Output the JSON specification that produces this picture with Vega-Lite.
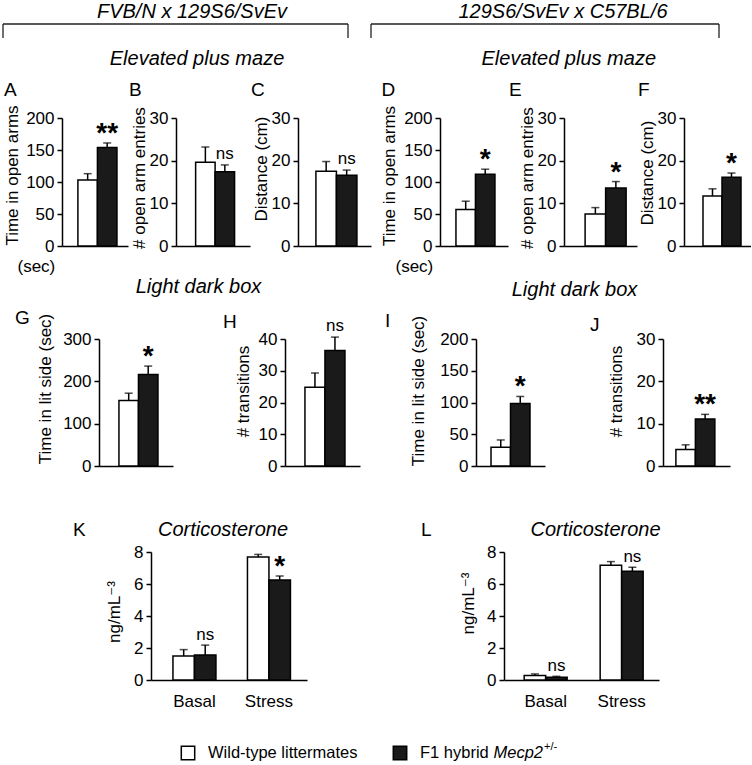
{
  "$schema": "https://vega.github.io/schema/vega-lite/v6.json",
  "padding": {"left": 0, "top": 2, "right": 0, "bottom": 0},
  "datasets": {
    "bars": [
      {"panel": "A", "group": "WT", "cond": "", "mean": 103, "top": 113, "sig": ""},
      {"panel": "A", "group": "Het", "cond": "", "mean": 154, "top": 161, "sig": "**"},
      {"panel": "B", "group": "WT", "cond": "", "mean": 19.6, "top": 23.2, "sig": ""},
      {"panel": "B", "group": "Het", "cond": "", "mean": 17.4, "top": 19.0, "sig": "ns"},
      {"panel": "C", "group": "WT", "cond": "", "mean": 17.5, "top": 19.8, "sig": ""},
      {"panel": "C", "group": "Het", "cond": "", "mean": 16.6, "top": 17.8, "sig": "ns"},
      {"panel": "D", "group": "WT", "cond": "", "mean": 57, "top": 70, "sig": ""},
      {"panel": "D", "group": "Het", "cond": "", "mean": 112, "top": 120, "sig": "*"},
      {"panel": "E", "group": "WT", "cond": "", "mean": 7.5, "top": 9.0, "sig": ""},
      {"panel": "E", "group": "Het", "cond": "", "mean": 13.6, "top": 15.1, "sig": "*"},
      {"panel": "F", "group": "WT", "cond": "", "mean": 11.7, "top": 13.4, "sig": ""},
      {"panel": "F", "group": "Het", "cond": "", "mean": 16.1, "top": 17.1, "sig": "*"},
      {"panel": "G", "group": "WT", "cond": "", "mean": 155, "top": 172, "sig": ""},
      {"panel": "G", "group": "Het", "cond": "", "mean": 216, "top": 236, "sig": "*"},
      {"panel": "H", "group": "WT", "cond": "", "mean": 24.8, "top": 29.3, "sig": ""},
      {"panel": "H", "group": "Het", "cond": "", "mean": 36.4, "top": 40.6, "sig": "ns"},
      {"panel": "I", "group": "WT", "cond": "", "mean": 29.5, "top": 41, "sig": ""},
      {"panel": "I", "group": "Het", "cond": "", "mean": 98.5, "top": 109.5, "sig": "*"},
      {"panel": "J", "group": "WT", "cond": "", "mean": 3.9, "top": 5.0, "sig": ""},
      {"panel": "J", "group": "Het", "cond": "", "mean": 11.1, "top": 12.2, "sig": "**"},
      {"panel": "K", "group": "WT", "cond": "Basal", "mean": 1.5, "top": 1.9, "sig": ""},
      {"panel": "K", "group": "Het", "cond": "Basal", "mean": 1.57, "top": 2.18, "sig": "ns"},
      {"panel": "K", "group": "WT", "cond": "Stress", "mean": 7.68, "top": 7.85, "sig": ""},
      {"panel": "K", "group": "Het", "cond": "Stress", "mean": 6.25, "top": 6.5, "sig": "*"},
      {"panel": "L", "group": "WT", "cond": "Basal", "mean": 0.28, "top": 0.38, "sig": ""},
      {"panel": "L", "group": "Het", "cond": "Basal", "mean": 0.17, "top": 0.23, "sig": "ns"},
      {"panel": "L", "group": "WT", "cond": "Stress", "mean": 7.17, "top": 7.4, "sig": ""},
      {"panel": "L", "group": "Het", "cond": "Stress", "mean": 6.8, "top": 7.05, "sig": "ns"}
    ],
    "legend": [
      {"group": "WT", "label": "Wild-type littermates", "gene": "", "sup": ""},
      {"group": "Het", "label": "F1 hybrid", "gene": "Mecp2", "sup": "+/-"}
    ]
  },
  "data": {"name": "bars"},
  "config": {
    "font": "Liberation Sans",
    "view": {"stroke": null},
    "title": {"fontWeight": "normal", "color": "black", "font": "Liberation Sans"},
    "axis": {"domainColor": "black", "domainWidth": 1.5, "tickColor": "black", "tickWidth": 1.5, "tickSize": 5, "labelColor": "black", "titleColor": "black", "labelFontSize": 17, "titleFontSize": 17, "titleFontWeight": "normal", "grid": false, "labelPadding": 3, "titlePadding": 3, "labelOverlap": false, "labelFont": "Liberation Sans", "titleFont": "Liberation Sans, DejaVu Sans"},
    "text": {"color": "black", "font": "Liberation Sans"}
  },
  "spacing": 2,
  "vconcat": [
    {
      "spacing": 0,
      "hconcat": [
        {"width": 2, "height": 22, "data": {"values": []}, "mark": {"type": "point", "opacity": 0}},
        {
          "spacing": 21,
          "hconcat": [
            {
              "width": 345, "height": 14,
              "data": {"values": [{}]},
              "title": {"text": "FVB/N x 129S6/SvEv", "fontStyle": "italic", "fontSize": 20, "offset": -15, "dx": 16.5, "baseline": "alphabetic"},
              "layer": [
                {"mark": {"type": "rule", "color": "#222", "strokeWidth": 1.3}, "encoding": {"x": {"datum": 0, "type": "quantitative", "scale": {"domain": [0, 1], "nice": false}, "axis": null}, "x2": {"datum": 1}, "y": {"datum": 1, "type": "quantitative", "scale": {"domain": [0, 1], "nice": false}, "axis": null}}},
                {"mark": {"type": "rule", "color": "#222", "strokeWidth": 1.3}, "encoding": {"x": {"datum": 0, "type": "quantitative"}, "y": {"datum": 1, "type": "quantitative"}, "y2": {"datum": 0}}},
                {"mark": {"type": "rule", "color": "#222", "strokeWidth": 1.3}, "encoding": {"x": {"datum": 1, "type": "quantitative"}, "y": {"datum": 1, "type": "quantitative"}, "y2": {"datum": 0}}}
              ]
            },
            {
              "width": 348, "height": 14,
              "data": {"values": [{}]},
              "title": {"text": "129S6/SvEv x C57BL/6", "fontStyle": "italic", "fontSize": 20, "offset": -15, "dx": 18, "baseline": "alphabetic"},
              "layer": [
                {"mark": {"type": "rule", "color": "#222", "strokeWidth": 1.3}, "encoding": {"x": {"datum": 0, "type": "quantitative", "scale": {"domain": [0, 1], "nice": false}, "axis": null}, "x2": {"datum": 1}, "y": {"datum": 1, "type": "quantitative", "scale": {"domain": [0, 1], "nice": false}, "axis": null}}},
                {"mark": {"type": "rule", "color": "#222", "strokeWidth": 1.3}, "encoding": {"x": {"datum": 0, "type": "quantitative"}, "y": {"datum": 1, "type": "quantitative"}, "y2": {"datum": 0}}},
                {"mark": {"type": "rule", "color": "#222", "strokeWidth": 1.3}, "encoding": {"x": {"datum": 1, "type": "quantitative"}, "y": {"datum": 1, "type": "quantitative"}, "y2": {"datum": 0}}}
              ]
            }
          ]
        }
      ]
    },
    {
      "spacing": 0,
      "hconcat": [
        {"width": 2, "height": 1, "data": {"values": []}, "mark": {"type": "point", "opacity": 0}},
        {
          "spacing": 9,
          "hconcat": [
            {
              "title": {"text": "Elevated plus maze", "fontStyle": "italic", "fontSize": 20, "anchor": "middle", "frame": "bounds", "offset": -4, "dx": 10, "baseline": "alphabetic"},
              "spacing": 0,
              "hconcat": [
                {
                  "width": 66, "height": 128,
                  "title": {"text": "A", "anchor": "start", "frame": "bounds", "fontSize": 19, "offset": -10.4, "dx": 1, "baseline": "alphabetic"},
                  "transform": [{"filter": "datum.panel==='A'"}],
                  "encoding": {"x": {"field": "group", "type": "nominal", "scale": {"domain": ["WT", "Het"], "paddingInner": 0, "paddingOuter": 0.69, "align": 0.59}, "axis": {"labels": false, "ticks": false, "title": "(sec)", "titleX": -45, "titleY": 25.5, "titleAlign": "left", "titleAnchor": "start", "titleBaseline": "alphabetic"}}},
                  "layer": [
                    {"mark": {"type": "bar", "stroke": "black", "strokeWidth": 1.5}, "encoding": {"y": {"field": "mean", "type": "quantitative", "scale": {"domain": [0, 200], "nice": false}, "axis": {"title": "Time in open arms", "values": [0, 50, 100, 150, 200], "tickCount": 5, "labelOverlap": false, "titleX": -41, "titleY": 57}}, "fill": {"field": "group", "type": "nominal", "scale": {"domain": ["WT", "Het"], "range": ["#ffffff", "#1a1a1a"]}, "legend": null}}},
                    {"mark": {"type": "rule", "color": "black", "strokeWidth": 1.5}, "encoding": {"y": {"field": "mean", "type": "quantitative", "axis": {"title": "Time in open arms", "values": [0, 50, 100, 150, 200], "tickCount": 5, "labelOverlap": false, "titleX": -41, "titleY": 57}}, "y2": {"field": "top"}}},
                    {"mark": {"type": "tick", "color": "black", "thickness": 1.5, "size": 8}, "encoding": {"y": {"field": "top", "type": "quantitative", "axis": {"title": "Time in open arms", "values": [0, 50, 100, 150, 200], "tickCount": 5, "labelOverlap": false, "titleX": -41, "titleY": 57}}}},
                    {"transform": [{"filter": "datum.sig==='ns'"}], "mark": {"type": "text", "fontSize": 17, "baseline": "alphabetic", "dy": -6}, "encoding": {"y": {"field": "top", "type": "quantitative"}, "text": {"field": "sig"}}},
                    {"transform": [{"filter": "datum.sig==='*'||datum.sig==='**'"}], "mark": {"type": "text", "fontSize": 28, "fontWeight": "bold", "baseline": "alphabetic", "dy": -1}, "encoding": {"y": {"field": "top", "type": "quantitative"}, "text": {"field": "sig"}}}
                  ]
                },
                {
                  "width": 74, "height": 128,
                  "title": {"text": "B", "anchor": "start", "frame": "bounds", "fontSize": 19, "offset": -8.4, "dx": -1, "baseline": "alphabetic"},
                  "transform": [{"filter": "datum.panel==='B'"}],
                  "encoding": {"x": {"field": "group", "type": "nominal", "scale": {"domain": ["WT", "Het"], "paddingInner": 0, "paddingOuter": 0.9, "align": 0.56}, "axis": {"labels": false, "ticks": false, "title": null}}},
                  "layer": [
                    {"mark": {"type": "bar", "stroke": "black", "strokeWidth": 1.5}, "encoding": {"y": {"field": "mean", "type": "quantitative", "scale": {"domain": [0, 30], "nice": false}, "axis": {"title": "# open arm entries", "values": [0, 10, 20, 30], "tickCount": 4, "labelOverlap": false, "titleX": -28, "titleY": 59.5}}, "fill": {"field": "group", "type": "nominal", "scale": {"domain": ["WT", "Het"], "range": ["#ffffff", "#1a1a1a"]}, "legend": null}}},
                    {"mark": {"type": "rule", "color": "black", "strokeWidth": 1.5}, "encoding": {"y": {"field": "mean", "type": "quantitative", "axis": {"title": "# open arm entries", "values": [0, 10, 20, 30], "tickCount": 4, "labelOverlap": false, "titleX": -28, "titleY": 59.5}}, "y2": {"field": "top"}}},
                    {"mark": {"type": "tick", "color": "black", "thickness": 1.5, "size": 8}, "encoding": {"y": {"field": "top", "type": "quantitative", "axis": {"title": "# open arm entries", "values": [0, 10, 20, 30], "tickCount": 4, "labelOverlap": false, "titleX": -28, "titleY": 59.5}}}},
                    {"transform": [{"filter": "datum.sig==='ns'"}], "mark": {"type": "text", "fontSize": 17, "baseline": "alphabetic", "dy": -6}, "encoding": {"y": {"field": "top", "type": "quantitative"}, "text": {"field": "sig"}}},
                    {"transform": [{"filter": "datum.sig==='*'||datum.sig==='**'"}], "mark": {"type": "text", "fontSize": 28, "fontWeight": "bold", "baseline": "alphabetic", "dy": -1}, "encoding": {"y": {"field": "top", "type": "quantitative"}, "text": {"field": "sig"}}}
                  ]
                },
                {
                  "width": 73, "height": 128,
                  "title": {"text": "C", "anchor": "start", "frame": "bounds", "fontSize": 19, "offset": -5.5, "dx": -1, "baseline": "alphabetic"},
                  "transform": [{"filter": "datum.panel==='C'"}],
                  "encoding": {"x": {"field": "group", "type": "nominal", "scale": {"domain": ["WT", "Het"], "paddingInner": 0, "paddingOuter": 0.78, "align": 0.56}, "axis": {"labels": false, "ticks": false, "title": null}}},
                  "layer": [
                    {"mark": {"type": "bar", "stroke": "black", "strokeWidth": 1.5}, "encoding": {"y": {"field": "mean", "type": "quantitative", "scale": {"domain": [0, 30], "nice": false}, "axis": {"title": "Distance (cm)", "values": [0, 10, 20, 30], "tickCount": 4, "labelOverlap": false, "titleX": -28, "titleY": 50.5}}, "fill": {"field": "group", "type": "nominal", "scale": {"domain": ["WT", "Het"], "range": ["#ffffff", "#1a1a1a"]}, "legend": null}}},
                    {"mark": {"type": "rule", "color": "black", "strokeWidth": 1.5}, "encoding": {"y": {"field": "mean", "type": "quantitative", "axis": {"title": "Distance (cm)", "values": [0, 10, 20, 30], "tickCount": 4, "labelOverlap": false, "titleX": -28, "titleY": 50.5}}, "y2": {"field": "top"}}},
                    {"mark": {"type": "tick", "color": "black", "thickness": 1.5, "size": 8}, "encoding": {"y": {"field": "top", "type": "quantitative", "axis": {"title": "Distance (cm)", "values": [0, 10, 20, 30], "tickCount": 4, "labelOverlap": false, "titleX": -28, "titleY": 50.5}}}},
                    {"transform": [{"filter": "datum.sig==='ns'"}], "mark": {"type": "text", "fontSize": 17, "baseline": "alphabetic", "dy": -6}, "encoding": {"y": {"field": "top", "type": "quantitative"}, "text": {"field": "sig"}}},
                    {"transform": [{"filter": "datum.sig==='*'||datum.sig==='**'"}], "mark": {"type": "text", "fontSize": 28, "fontWeight": "bold", "baseline": "alphabetic", "dy": -1}, "encoding": {"y": {"field": "top", "type": "quantitative"}, "text": {"field": "sig"}}}
                  ]
                }
              ]
            },
            {
              "title": {"text": "Elevated plus maze", "fontStyle": "italic", "fontSize": 20, "anchor": "middle", "frame": "bounds", "offset": -4, "dx": 3, "baseline": "alphabetic"},
              "spacing": 0,
              "hconcat": [
                {
                  "width": 68, "height": 128,
                  "title": {"text": "D", "anchor": "start", "frame": "bounds", "fontSize": 19, "offset": -9.9, "dx": 1, "baseline": "alphabetic"},
                  "transform": [{"filter": "datum.panel==='D'"}],
                  "encoding": {"x": {"field": "group", "type": "nominal", "scale": {"domain": ["WT", "Het"], "paddingInner": 0, "paddingOuter": 0.744, "align": 0.55}, "axis": {"labels": false, "ticks": false, "title": "(sec)", "titleX": -45, "titleY": 25.5, "titleAlign": "left", "titleAnchor": "start", "titleBaseline": "alphabetic"}}},
                  "layer": [
                    {"mark": {"type": "bar", "stroke": "black", "strokeWidth": 1.5}, "encoding": {"y": {"field": "mean", "type": "quantitative", "scale": {"domain": [0, 200], "nice": false}, "axis": {"title": "Time in open arms", "values": [0, 50, 100, 150, 200], "tickCount": 5, "labelOverlap": false, "titleX": -41.5, "titleY": 57.5}}, "fill": {"field": "group", "type": "nominal", "scale": {"domain": ["WT", "Het"], "range": ["#ffffff", "#1a1a1a"]}, "legend": null}}},
                    {"mark": {"type": "rule", "color": "black", "strokeWidth": 1.5}, "encoding": {"y": {"field": "mean", "type": "quantitative", "axis": {"title": "Time in open arms", "values": [0, 50, 100, 150, 200], "tickCount": 5, "labelOverlap": false, "titleX": -41.5, "titleY": 57.5}}, "y2": {"field": "top"}}},
                    {"mark": {"type": "tick", "color": "black", "thickness": 1.5, "size": 8}, "encoding": {"y": {"field": "top", "type": "quantitative", "axis": {"title": "Time in open arms", "values": [0, 50, 100, 150, 200], "tickCount": 5, "labelOverlap": false, "titleX": -41.5, "titleY": 57.5}}}},
                    {"transform": [{"filter": "datum.sig==='ns'"}], "mark": {"type": "text", "fontSize": 17, "baseline": "alphabetic", "dy": -6}, "encoding": {"y": {"field": "top", "type": "quantitative"}, "text": {"field": "sig"}}},
                    {"transform": [{"filter": "datum.sig==='*'||datum.sig==='**'"}], "mark": {"type": "text", "fontSize": 28, "fontWeight": "bold", "baseline": "alphabetic", "dy": -1}, "encoding": {"y": {"field": "top", "type": "quantitative"}, "text": {"field": "sig"}}}
                  ]
                },
                {
                  "width": 73, "height": 128,
                  "title": {"text": "E", "anchor": "start", "frame": "bounds", "fontSize": 19, "offset": -8.4, "dx": -9, "baseline": "alphabetic"},
                  "transform": [{"filter": "datum.panel==='E'"}],
                  "encoding": {"x": {"field": "group", "type": "nominal", "scale": {"domain": ["WT", "Het"], "paddingInner": 0, "paddingOuter": 0.78, "align": 0.66}, "axis": {"labels": false, "ticks": false, "title": null}}},
                  "layer": [
                    {"mark": {"type": "bar", "stroke": "black", "strokeWidth": 1.5}, "encoding": {"y": {"field": "mean", "type": "quantitative", "scale": {"domain": [0, 30], "nice": false}, "axis": {"title": "# open arm entries", "values": [0, 10, 20, 30], "tickCount": 4, "labelOverlap": false, "titleX": -28, "titleY": 59.5}}, "fill": {"field": "group", "type": "nominal", "scale": {"domain": ["WT", "Het"], "range": ["#ffffff", "#1a1a1a"]}, "legend": null}}},
                    {"mark": {"type": "rule", "color": "black", "strokeWidth": 1.5}, "encoding": {"y": {"field": "mean", "type": "quantitative", "axis": {"title": "# open arm entries", "values": [0, 10, 20, 30], "tickCount": 4, "labelOverlap": false, "titleX": -28, "titleY": 59.5}}, "y2": {"field": "top"}}},
                    {"mark": {"type": "tick", "color": "black", "thickness": 1.5, "size": 8}, "encoding": {"y": {"field": "top", "type": "quantitative", "axis": {"title": "# open arm entries", "values": [0, 10, 20, 30], "tickCount": 4, "labelOverlap": false, "titleX": -28, "titleY": 59.5}}}},
                    {"transform": [{"filter": "datum.sig==='ns'"}], "mark": {"type": "text", "fontSize": 17, "baseline": "alphabetic", "dy": -6}, "encoding": {"y": {"field": "top", "type": "quantitative"}, "text": {"field": "sig"}}},
                    {"transform": [{"filter": "datum.sig==='*'||datum.sig==='**'"}], "mark": {"type": "text", "fontSize": 28, "fontWeight": "bold", "baseline": "alphabetic", "dy": -1}, "encoding": {"y": {"field": "top", "type": "quantitative"}, "text": {"field": "sig"}}}
                  ]
                },
                {
                  "width": 67, "height": 128,
                  "title": {"text": "F", "anchor": "start", "frame": "bounds", "fontSize": 19, "offset": -5.5, "dx": 0, "baseline": "alphabetic"},
                  "transform": [{"filter": "datum.panel==='F'"}],
                  "encoding": {"x": {"field": "group", "type": "nominal", "scale": {"domain": ["WT", "Het"], "paddingInner": 0, "paddingOuter": 0.763, "align": 0.655}, "axis": {"labels": false, "ticks": false, "title": null}}},
                  "layer": [
                    {"mark": {"type": "bar", "stroke": "black", "strokeWidth": 1.5}, "encoding": {"y": {"field": "mean", "type": "quantitative", "scale": {"domain": [0, 30], "nice": false}, "axis": {"title": "Distance (cm)", "values": [0, 10, 20, 30], "tickCount": 4, "labelOverlap": false, "titleX": -28, "titleY": 54.5}}, "fill": {"field": "group", "type": "nominal", "scale": {"domain": ["WT", "Het"], "range": ["#ffffff", "#1a1a1a"]}, "legend": null}}},
                    {"mark": {"type": "rule", "color": "black", "strokeWidth": 1.5}, "encoding": {"y": {"field": "mean", "type": "quantitative", "axis": {"title": "Distance (cm)", "values": [0, 10, 20, 30], "tickCount": 4, "labelOverlap": false, "titleX": -28, "titleY": 54.5}}, "y2": {"field": "top"}}},
                    {"mark": {"type": "tick", "color": "black", "thickness": 1.5, "size": 8}, "encoding": {"y": {"field": "top", "type": "quantitative", "axis": {"title": "Distance (cm)", "values": [0, 10, 20, 30], "tickCount": 4, "labelOverlap": false, "titleX": -28, "titleY": 54.5}}}},
                    {"transform": [{"filter": "datum.sig==='ns'"}], "mark": {"type": "text", "fontSize": 17, "baseline": "alphabetic", "dy": -6}, "encoding": {"y": {"field": "top", "type": "quantitative"}, "text": {"field": "sig"}}},
                    {"transform": [{"filter": "datum.sig==='*'||datum.sig==='**'"}], "mark": {"type": "text", "fontSize": 28, "fontWeight": "bold", "baseline": "alphabetic", "dy": -1}, "encoding": {"y": {"field": "top", "type": "quantitative"}, "text": {"field": "sig"}}}
                  ]
                }
              ]
            }
          ]
        }
      ]
    },
    {
      "spacing": 0,
      "hconcat": [
        {"width": 15, "height": 178, "data": {"values": []}, "mark": {"type": "point", "opacity": 0}},
        {
          "spacing": 25,
          "hconcat": [
            {
              "title": {"text": "Light dark box", "fontStyle": "italic", "fontSize": 20, "anchor": "middle", "frame": "bounds", "offset": -4, "dx": 11, "baseline": "alphabetic"},
              "spacing": 49,
              "hconcat": [
                {
                  "width": 74, "height": 127,
                  "title": {"text": "G", "anchor": "start", "frame": "bounds", "fontSize": 19, "offset": -30, "dx": -21, "baseline": "alphabetic"},
                  "transform": [{"filter": "datum.panel==='G'"}],
                  "encoding": {"x": {"field": "group", "type": "nominal", "scale": {"domain": ["WT", "Het"], "paddingInner": 0, "paddingOuter": 0.897, "align": 0.57}, "axis": {"labels": false, "ticks": false, "title": null}}},
                  "layer": [
                    {"mark": {"type": "bar", "stroke": "black", "strokeWidth": 1.5}, "encoding": {"y": {"field": "mean", "type": "quantitative", "scale": {"domain": [0, 300], "nice": false}, "axis": {"title": "Time in lit side (sec)", "values": [0, 100, 200, 300], "tickCount": 4, "labelOverlap": false, "titleX": -45, "titleY": 49.5}}, "fill": {"field": "group", "type": "nominal", "scale": {"domain": ["WT", "Het"], "range": ["#ffffff", "#1a1a1a"]}, "legend": null}}},
                    {"mark": {"type": "rule", "color": "black", "strokeWidth": 1.5}, "encoding": {"y": {"field": "mean", "type": "quantitative", "axis": {"title": "Time in lit side (sec)", "values": [0, 100, 200, 300], "tickCount": 4, "labelOverlap": false, "titleX": -45, "titleY": 49.5}}, "y2": {"field": "top"}}},
                    {"mark": {"type": "tick", "color": "black", "thickness": 1.5, "size": 8}, "encoding": {"y": {"field": "top", "type": "quantitative", "axis": {"title": "Time in lit side (sec)", "values": [0, 100, 200, 300], "tickCount": 4, "labelOverlap": false, "titleX": -45, "titleY": 49.5}}}},
                    {"transform": [{"filter": "datum.sig==='ns'"}], "mark": {"type": "text", "fontSize": 17, "baseline": "alphabetic", "dy": -6}, "encoding": {"y": {"field": "top", "type": "quantitative"}, "text": {"field": "sig"}}},
                    {"transform": [{"filter": "datum.sig==='*'||datum.sig==='**'"}], "mark": {"type": "text", "fontSize": 28, "fontWeight": "bold", "baseline": "alphabetic", "dy": -1}, "encoding": {"y": {"field": "top", "type": "quantitative"}, "text": {"field": "sig"}}}
                  ]
                },
                {
                  "width": 75, "height": 127,
                  "title": {"text": "H", "anchor": "start", "frame": "bounds", "fontSize": 19, "offset": -29.5, "dx": -11, "baseline": "alphabetic"},
                  "transform": [{"filter": "datum.panel==='H'"}],
                  "encoding": {"x": {"field": "group", "type": "nominal", "scale": {"domain": ["WT", "Het"], "paddingInner": 0, "paddingOuter": 0.875, "align": 0.57}, "axis": {"labels": false, "ticks": false, "title": null}}},
                  "layer": [
                    {"mark": {"type": "bar", "stroke": "black", "strokeWidth": 1.5}, "encoding": {"y": {"field": "mean", "type": "quantitative", "scale": {"domain": [0, 40], "nice": false}, "axis": {"title": "# transitions", "values": [0, 10, 20, 30, 40], "tickCount": 5, "labelOverlap": false, "titleX": -33, "titleY": 52}}, "fill": {"field": "group", "type": "nominal", "scale": {"domain": ["WT", "Het"], "range": ["#ffffff", "#1a1a1a"]}, "legend": null}}},
                    {"mark": {"type": "rule", "color": "black", "strokeWidth": 1.5}, "encoding": {"y": {"field": "mean", "type": "quantitative", "axis": {"title": "# transitions", "values": [0, 10, 20, 30, 40], "tickCount": 5, "labelOverlap": false, "titleX": -33, "titleY": 52}}, "y2": {"field": "top"}}},
                    {"mark": {"type": "tick", "color": "black", "thickness": 1.5, "size": 8}, "encoding": {"y": {"field": "top", "type": "quantitative", "axis": {"title": "# transitions", "values": [0, 10, 20, 30, 40], "tickCount": 5, "labelOverlap": false, "titleX": -33, "titleY": 52}}}},
                    {"transform": [{"filter": "datum.sig==='ns'"}], "mark": {"type": "text", "fontSize": 17, "baseline": "alphabetic", "dy": -6}, "encoding": {"y": {"field": "top", "type": "quantitative"}, "text": {"field": "sig"}}},
                    {"transform": [{"filter": "datum.sig==='*'||datum.sig==='**'"}], "mark": {"type": "text", "fontSize": 28, "fontWeight": "bold", "baseline": "alphabetic", "dy": -1}, "encoding": {"y": {"field": "top", "type": "quantitative"}, "text": {"field": "sig"}}}
                  ]
                }
              ]
            },
            {
              "title": {"text": "Light dark box", "fontStyle": "italic", "fontSize": 20, "anchor": "middle", "frame": "bounds", "offset": -4, "dx": 17, "baseline": "alphabetic"},
              "spacing": 45,
              "hconcat": [
                {
                  "width": 69, "height": 127,
                  "title": {"text": "I", "anchor": "start", "frame": "bounds", "fontSize": 19, "offset": -31, "dx": -24.5, "baseline": "alphabetic"},
                  "transform": [{"filter": "datum.panel==='I'"}],
                  "encoding": {"x": {"field": "group", "type": "nominal", "scale": {"domain": ["WT", "Het"], "paddingInner": 0, "paddingOuter": 0.77, "align": 0.5}, "axis": {"labels": false, "ticks": false, "title": null}}},
                  "layer": [
                    {"mark": {"type": "bar", "stroke": "black", "strokeWidth": 1.5}, "encoding": {"y": {"field": "mean", "type": "quantitative", "scale": {"domain": [0, 200], "nice": false}, "axis": {"title": "Time in lit side (sec)", "values": [0, 50, 100, 150, 200], "tickCount": 5, "labelOverlap": false, "titleX": -48.5, "titleY": 51.5}}, "fill": {"field": "group", "type": "nominal", "scale": {"domain": ["WT", "Het"], "range": ["#ffffff", "#1a1a1a"]}, "legend": null}}},
                    {"mark": {"type": "rule", "color": "black", "strokeWidth": 1.5}, "encoding": {"y": {"field": "mean", "type": "quantitative", "axis": {"title": "Time in lit side (sec)", "values": [0, 50, 100, 150, 200], "tickCount": 5, "labelOverlap": false, "titleX": -48.5, "titleY": 51.5}}, "y2": {"field": "top"}}},
                    {"mark": {"type": "tick", "color": "black", "thickness": 1.5, "size": 8}, "encoding": {"y": {"field": "top", "type": "quantitative", "axis": {"title": "Time in lit side (sec)", "values": [0, 50, 100, 150, 200], "tickCount": 5, "labelOverlap": false, "titleX": -48.5, "titleY": 51.5}}}},
                    {"transform": [{"filter": "datum.sig==='ns'"}], "mark": {"type": "text", "fontSize": 17, "baseline": "alphabetic", "dy": -6}, "encoding": {"y": {"field": "top", "type": "quantitative"}, "text": {"field": "sig"}}},
                    {"transform": [{"filter": "datum.sig==='*'||datum.sig==='**'"}], "mark": {"type": "text", "fontSize": 28, "fontWeight": "bold", "baseline": "alphabetic", "dy": -1}, "encoding": {"y": {"field": "top", "type": "quantitative"}, "text": {"field": "sig"}}}
                  ]
                },
                {
                  "width": 67, "height": 127,
                  "title": {"text": "J", "anchor": "start", "frame": "bounds", "fontSize": 19, "offset": -20, "dx": -17, "baseline": "alphabetic"},
                  "transform": [{"filter": "datum.panel==='J'"}],
                  "encoding": {"x": {"field": "group", "type": "nominal", "scale": {"domain": ["WT", "Het"], "paddingInner": 0, "paddingOuter": 0.72, "align": 0.46}, "axis": {"labels": false, "ticks": false, "title": null}}},
                  "layer": [
                    {"mark": {"type": "bar", "stroke": "black", "strokeWidth": 1.5}, "encoding": {"y": {"field": "mean", "type": "quantitative", "scale": {"domain": [0, 30], "nice": false}, "axis": {"title": "# transitions", "values": [0, 10, 20, 30], "tickCount": 4, "labelOverlap": false, "titleX": -38, "titleY": 52}}, "fill": {"field": "group", "type": "nominal", "scale": {"domain": ["WT", "Het"], "range": ["#ffffff", "#1a1a1a"]}, "legend": null}}},
                    {"mark": {"type": "rule", "color": "black", "strokeWidth": 1.5}, "encoding": {"y": {"field": "mean", "type": "quantitative", "axis": {"title": "# transitions", "values": [0, 10, 20, 30], "tickCount": 4, "labelOverlap": false, "titleX": -38, "titleY": 52}}, "y2": {"field": "top"}}},
                    {"mark": {"type": "tick", "color": "black", "thickness": 1.5, "size": 8}, "encoding": {"y": {"field": "top", "type": "quantitative", "axis": {"title": "# transitions", "values": [0, 10, 20, 30], "tickCount": 4, "labelOverlap": false, "titleX": -38, "titleY": 52}}}},
                    {"transform": [{"filter": "datum.sig==='ns'"}], "mark": {"type": "text", "fontSize": 17, "baseline": "alphabetic", "dy": -6}, "encoding": {"y": {"field": "top", "type": "quantitative"}, "text": {"field": "sig"}}},
                    {"transform": [{"filter": "datum.sig==='*'||datum.sig==='**'"}], "mark": {"type": "text", "fontSize": 28, "fontWeight": "bold", "baseline": "alphabetic", "dy": -1}, "encoding": {"y": {"field": "top", "type": "quantitative"}, "text": {"field": "sig"}}}
                  ]
                }
              ]
            }
          ]
        }
      ]
    },
    {
      "spacing": 0,
      "hconcat": [
        {"width": 73, "height": 187, "data": {"values": []}, "mark": {"type": "point", "opacity": 0}},
        {
          "spacing": 114,
          "hconcat": [
            {
              "title": {"text": "K", "anchor": "start", "frame": "bounds", "fontSize": 19, "offset": -35, "dx": -32.5, "baseline": "alphabetic"},
              "hconcat": [
                {
                  "width": 156, "height": 128,
                  "title": {"text": "Corticosterone", "fontStyle": "italic", "fontSize": 20, "offset": -12.5, "dx": -6, "anchor": "middle", "frame": "group", "baseline": "alphabetic"},
                  "transform": [{"filter": "datum.panel==='K'"}],
                  "encoding": {
                    "x": {"field": "cond", "type": "nominal", "scale": {"domain": ["Basal", "Stress"], "paddingInner": 0.423, "paddingOuter": 0.2585, "align": 0.57}, "axis": {"ticks": false, "labels": true, "labelAngle": 0, "labelPadding": 13, "title": null}},
                    "xOffset": {"field": "group", "type": "nominal", "scale": {"domain": ["WT", "Het"], "paddingInner": 0, "paddingOuter": 0}}
                  },
                  "layer": [
                    {"mark": {"type": "bar", "stroke": "black", "strokeWidth": 1.5}, "encoding": {"y": {"field": "mean", "type": "quantitative", "scale": {"domain": [0, 8], "nice": false}, "axis": {"title": "ng/mL⁻³", "values": [0, 2, 4, 6, 8], "tickCount": 5, "labelOverlap": false, "titleX": -27.5, "titleY": 59.5}}, "fill": {"field": "group", "type": "nominal", "scale": {"domain": ["WT", "Het"], "range": ["#ffffff", "#1a1a1a"]}, "legend": null}}},
                    {"mark": {"type": "rule", "color": "black", "strokeWidth": 1.5}, "encoding": {"y": {"field": "mean", "type": "quantitative", "axis": {"title": "ng/mL⁻³", "values": [0, 2, 4, 6, 8], "tickCount": 5, "labelOverlap": false, "titleX": -27.5, "titleY": 59.5}}, "y2": {"field": "top"}}},
                    {"mark": {"type": "tick", "color": "black", "thickness": 1.5, "size": 8}, "encoding": {"y": {"field": "top", "type": "quantitative", "axis": {"title": "ng/mL⁻³", "values": [0, 2, 4, 6, 8], "tickCount": 5, "labelOverlap": false, "titleX": -27.5, "titleY": 59.5}}}},
                    {"transform": [{"filter": "datum.sig==='ns'"}], "mark": {"type": "text", "fontSize": 17, "baseline": "alphabetic", "dy": -5}, "encoding": {"y": {"field": "top", "type": "quantitative"}, "text": {"field": "sig"}}},
                    {"transform": [{"filter": "datum.sig==='*'||datum.sig==='**'"}], "mark": {"type": "text", "fontSize": 28, "fontWeight": "bold", "baseline": "alphabetic", "dy": -1}, "encoding": {"y": {"field": "top", "type": "quantitative"}, "text": {"field": "sig"}}}
                  ]
                }
              ]
            },
            {
              "title": {"text": "L", "anchor": "start", "frame": "bounds", "fontSize": 19, "offset": -35, "dx": -38.5, "baseline": "alphabetic"},
              "hconcat": [
                {
                  "width": 155, "height": 128,
                  "title": {"text": "Corticosterone", "fontStyle": "italic", "fontSize": 20, "offset": -12.5, "dx": 14, "anchor": "middle", "frame": "group", "baseline": "alphabetic"},
                  "transform": [{"filter": "datum.panel==='L'"}],
                  "encoding": {
                    "x": {"field": "cond", "type": "nominal", "scale": {"domain": ["Basal", "Stress"], "paddingInner": 0.434, "paddingOuter": 0.237, "align": 0.56}, "axis": {"ticks": false, "labels": true, "labelAngle": 0, "labelPadding": 13, "title": null}},
                    "xOffset": {"field": "group", "type": "nominal", "scale": {"domain": ["WT", "Het"], "paddingInner": 0, "paddingOuter": 0}}
                  },
                  "layer": [
                    {"mark": {"type": "bar", "stroke": "black", "strokeWidth": 1.5}, "encoding": {"y": {"field": "mean", "type": "quantitative", "scale": {"domain": [0, 8], "nice": false}, "axis": {"title": "ng/mL⁻³", "values": [0, 2, 4, 6, 8], "tickCount": 5, "labelOverlap": false, "titleX": -26.5, "titleY": 51}}, "fill": {"field": "group", "type": "nominal", "scale": {"domain": ["WT", "Het"], "range": ["#ffffff", "#1a1a1a"]}, "legend": null}}},
                    {"mark": {"type": "rule", "color": "black", "strokeWidth": 1.5}, "encoding": {"y": {"field": "mean", "type": "quantitative", "axis": {"title": "ng/mL⁻³", "values": [0, 2, 4, 6, 8], "tickCount": 5, "labelOverlap": false, "titleX": -26.5, "titleY": 51}}, "y2": {"field": "top"}}},
                    {"mark": {"type": "tick", "color": "black", "thickness": 1.5, "size": 8}, "encoding": {"y": {"field": "top", "type": "quantitative", "axis": {"title": "ng/mL⁻³", "values": [0, 2, 4, 6, 8], "tickCount": 5, "labelOverlap": false, "titleX": -26.5, "titleY": 51}}}},
                    {"transform": [{"filter": "datum.sig==='ns'"}], "mark": {"type": "text", "fontSize": 17, "baseline": "alphabetic", "dy": -5}, "encoding": {"y": {"field": "top", "type": "quantitative"}, "text": {"field": "sig"}}},
                    {"transform": [{"filter": "datum.sig==='*'||datum.sig==='**'"}], "mark": {"type": "text", "fontSize": 28, "fontWeight": "bold", "baseline": "alphabetic", "dy": -1}, "encoding": {"y": {"field": "top", "type": "quantitative"}, "text": {"field": "sig"}}}
                  ]
                }
              ]
            }
          ]
        }
      ]
    },
    {
      "spacing": 0,
      "hconcat": [
        {"width": 178, "height": 1, "data": {"values": []}, "mark": {"type": "point", "opacity": 0}},
        {
          "width": 212, "height": 16,
          "data": {"name": "legend"},
          "encoding": {"x": {"field": "group", "type": "nominal", "scale": {"type": "point", "domain": ["WT", "Het"], "padding": 0}, "axis": null}},
          "layer": [
            {"mark": {"type": "point", "shape": "square", "size": 180, "filled": true, "stroke": "black", "strokeWidth": 1.5, "opacity": 1}, "encoding": {"fill": {"field": "group", "type": "nominal", "scale": {"domain": ["WT", "Het"], "range": ["#ffffff", "#1a1a1a"]}, "legend": null}}},
            {"mark": {"type": "text", "align": "left", "baseline": "middle", "dx": 20, "fontSize": 16.5}, "encoding": {"text": {"field": "label"}}},
            {"mark": {"type": "text", "align": "left", "baseline": "middle", "dx": 93.5, "fontSize": 16.5, "fontStyle": "italic"}, "encoding": {"text": {"field": "gene"}}},
            {"mark": {"type": "text", "align": "left", "baseline": "middle", "dx": 144, "dy": -6, "fontSize": 11}, "encoding": {"text": {"field": "sup"}}}
          ]
        }
      ]
    }
  ]
}
